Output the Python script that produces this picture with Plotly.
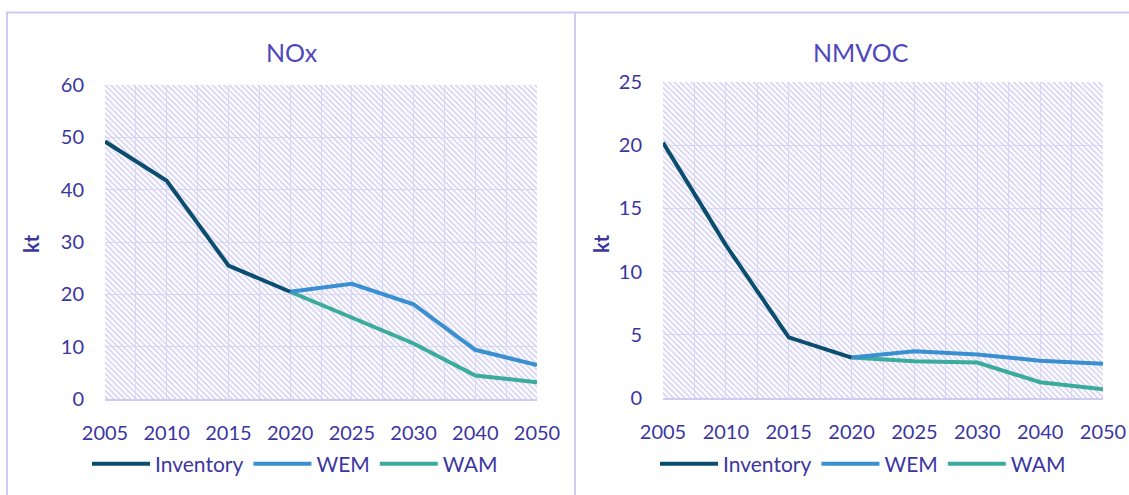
import plotly.graph_objects as go

# ---------------- data ----------------
years = ["2005", "2010", "2015", "2020", "2025", "2030", "2040", "2050"]
series_names = ["Inventory", "WEM", "WAM"]

nox_inventory = [49.2, 41.7, 25.5, 20.5]
nox_wem = [20.5, 22.0, 18.1, 9.4, 6.5]
nox_wam = [20.5, 15.5, 10.6, 4.5, 3.2]

nmvoc_inventory = [20.2, 12.1, 4.8, 3.2]
nmvoc_wem = [3.2, 3.7, 3.45, 2.95, 2.7]
nmvoc_wam = [3.2, 2.9, 2.8, 1.25, 0.7]

panel_titles = ["NOx", "NMVOC"]
y_title = "kt"
y_max = [60, 25]
y_step = [10, 5]

# ---------------- styles ----------------
W, H = 1129, 495
FONT = "Lato"
TXT = "#3b36a2"
TITLE_C = "#4f47bd"
GRID = "#dcd9f5"
FRAME = "#cfcaf0"
HATCH = "#d4d0f3"
colors = {"Inventory": "#0b4d6e", "WEM": "#3a8fd0", "WAM": "#3aab9c"}

idx = list(range(len(years)))
inv_x = idx[:4]
proj_x = idx[3:]

fig = go.Figure()

panels = [
    (nox_inventory, nox_wem, nox_wam, "x", "y", "legend"),
    (nmvoc_inventory, nmvoc_wem, nmvoc_wam, "x2", "y2", "legend2"),
]

for p, (inv, wem, wam, xa, ya, lg) in enumerate(panels):
    # hatched plot background
    fig.add_trace(go.Scatter(
        x=[idx[0], idx[-1], idx[-1], idx[0], idx[0]],
        y=[0, 0, y_max[p], y_max[p], 0],
        fill="toself", mode="none", fillcolor="rgba(0,0,0,0)",
        fillpattern=dict(shape="\\", fgcolor=HATCH, bgcolor="rgba(0,0,0,0)",
                         size=4, solidity=0.4, fillmode="replace"),
        hoverinfo="skip", showlegend=False, xaxis=xa, yaxis=ya,
    ))
    order = [("WAM", proj_x, wam), ("WEM", proj_x, wem), ("Inventory", inv_x, inv)]
    for name, xs, ys in order:
        fig.add_trace(go.Scatter(
            x=xs, y=ys, mode="lines", name=name,
            line=dict(color=colors[name], width=4),
            xaxis=xa, yaxis=ya, legend=lg,
            legendrank=series_names.index(name),
        ))

axis_common_x = dict(
    range=[idx[0], idx[-1]],
    tickmode="array", tickvals=idx, ticktext=years,
    showgrid=True, gridcolor=GRID, gridwidth=1,
    minor=dict(tickmode="linear", tick0=0, dtick=0.5, showgrid=True, gridcolor=GRID, gridwidth=1),
    showline=True, linecolor=FRAME, linewidth=2, mirror=False,
    ticks="", ticklabelstandoff=15,
    tickfont=dict(family=FONT, size=20, color=TXT),
    zeroline=False, fixedrange=True, automargin=False,
)

def yaxis_cfg(p):
    return dict(
        range=[0, y_max[p]], tickmode="linear", tick0=0, dtick=y_step[p],
        showgrid=True, gridcolor=GRID, gridwidth=1,
        showline=False, ticks="", ticklabelstandoff=20,
        tickfont=dict(family=FONT, size=20, color=TXT),
        zeroline=False, fixedrange=True, automargin=False,
    )

def px_x(v):
    return v / W

def px_y(v):
    return 1 - v / H

legend_common = dict(orientation="h", yanchor="middle", xanchor="center",
                     font=dict(family=FONT, size=21, color=TXT), bgcolor="rgba(0,0,0,0)",
                     itemwidth=58, traceorder="normal")

fig.update_layout(
    width=W, height=H,
    margin=dict(l=0, r=0, t=0, b=0, autoexpand=False),
    paper_bgcolor="white", plot_bgcolor="white",
    font=dict(family=FONT, color=TXT),
    xaxis=dict(axis_common_x, domain=[px_x(105), px_x(537)], anchor="y"),
    yaxis=dict(yaxis_cfg(0), domain=[px_y(399), px_y(85)], anchor="x"),
    xaxis2=dict(axis_common_x, domain=[px_x(663), px_x(1103)], anchor="y2"),
    yaxis2=dict(yaxis_cfg(1), domain=[px_y(398), px_y(82)], anchor="x2"),
    legend=dict(legend_common, x=px_x(295), y=px_y(464)),
    legend2=dict(legend_common, x=px_x(863), y=px_y(464)),
    showlegend=True,
)

# panel titles and y-axis titles
for p, cx in enumerate([292, 861]):
    fig.add_annotation(text=panel_titles[p], x=px_x(cx), y=px_y(52), xref="paper", yref="paper",
                       showarrow=False, xanchor="center", yanchor="middle",
                       font=dict(family=FONT, size=25, color=TITLE_C))
for p, cx in enumerate([31, 601]):
    fig.add_annotation(text="<b>" + y_title + "</b>", x=px_x(cx), y=px_y(244), xref="paper", yref="paper",
                       showarrow=False, xanchor="center", yanchor="middle", textangle=-90,
                       font=dict(family=FONT, size=20, color=TXT))

# panel frames
fig.add_shape(type="rect", xref="paper", yref="paper",
              x0=px_x(7), x1=px_x(575), y0=px_y(498), y1=px_y(12.5),
              line=dict(color=FRAME, width=2), fillcolor="rgba(0,0,0,0)", layer="below")
fig.add_shape(type="rect", xref="paper", yref="paper",
              x0=px_x(575), x1=px_x(1135), y0=px_y(498), y1=px_y(12.5),
              line=dict(color=FRAME, width=2), fillcolor="rgba(0,0,0,0)", layer="below")

fig.write_html(
    "out.html",
    config={"displayModeBar": False, "staticPlot": True},
    post_script="document.body.style.margin='0';document.body.style.overflow='hidden';",
)
